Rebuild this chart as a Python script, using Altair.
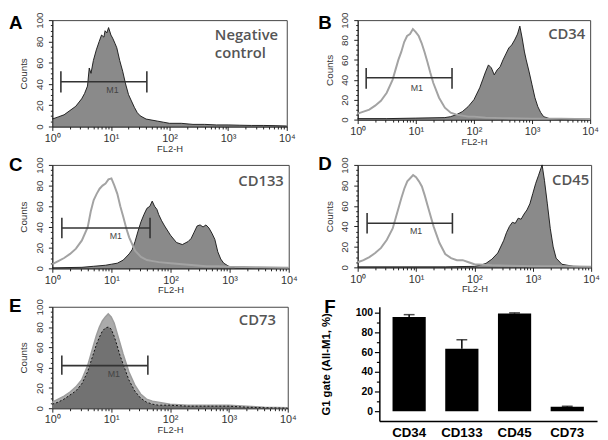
import altair as alt
import pandas as pd

FONT = "Liberation Sans"

# ---------------- histogram data (x = log10 FL2-H exponent, y = counts) ----------------
A_e = [0.0, 0.1, 0.2, 0.3, 0.4, 0.5, 0.55, 0.6, 0.63, 0.66, 0.7, 0.75, 0.8, 0.84, 0.88, 0.9, 0.93, 0.96,
       1.0, 1.03, 1.07, 1.1, 1.15, 1.2, 1.25, 1.3, 1.35, 1.4, 1.45, 1.5, 1.6, 1.7, 1.8, 1.9, 2.0, 2.2, 2.4,
       2.6, 2.8, 3.0, 3.2, 3.4, 3.6, 3.8, 4.0]
A_c = [7, 9, 11, 15, 19, 26, 31, 38, 55, 50, 62, 72, 80, 86, 84, 90, 88, 93,
       86, 83, 78, 74, 62, 52, 40, 30, 24, 18, 13, 10, 7, 6, 5, 4, 3, 3, 2,
       2, 1.5, 1.5, 1.2, 1, 1, 0.8, 0.5]

B_ctrl_e = [0.0, 0.1, 0.2, 0.3, 0.4, 0.5, 0.6, 0.65, 0.7, 0.75, 0.8, 0.85, 0.9, 0.95, 1.0, 1.05, 1.1, 1.15,
            1.2, 1.25, 1.3, 1.4, 1.5, 1.6, 1.7, 1.8, 1.9, 2.0, 2.2, 2.5, 3.0, 3.5, 4.0]
B_ctrl_c = [6, 8, 10, 14, 19, 27, 40, 50, 60, 68, 78, 84, 86, 91, 88, 84, 77, 68,
            58, 47, 37, 22, 12, 7, 5, 4, 3, 3, 2, 1.5, 1, 1, 0.5]
B_e = [0.0, 0.5, 1.0, 1.5, 1.6, 1.7, 1.8, 1.9, 2.0, 2.1, 2.15, 2.2, 2.25, 2.3, 2.35, 2.4, 2.45, 2.5,
       2.55, 2.6, 2.65, 2.7, 2.75, 2.79, 2.83, 2.87, 2.9, 2.95, 3.0, 3.05, 3.1, 3.15, 3.2, 3.3, 3.5, 4.0]
B_c = [1, 1, 1.5, 2, 3, 5, 8, 13, 20, 32, 40, 48, 55, 52, 45, 50, 53, 60,
       66, 72, 75, 80, 86, 94, 82, 68, 60, 48, 35, 22, 13, 7, 3, 1, 0.5, 0.5]

C_ctrl_e = [0.0, 0.1, 0.2, 0.3, 0.4, 0.5, 0.6, 0.65, 0.7, 0.75, 0.8, 0.85, 0.9, 0.95, 1.0, 1.05, 1.1, 1.15,
            1.2, 1.25, 1.3, 1.4, 1.5, 1.6, 1.7, 1.8, 2.0, 2.2, 2.4, 2.6, 2.8, 3.0, 3.5, 4.0]
C_ctrl_c = [4, 7, 10, 14, 19, 27, 40, 55, 66, 72, 77, 80, 82, 86, 87, 80, 72, 60,
            50, 39, 30, 17, 11, 8, 7, 6, 5, 4, 3, 2, 2, 1.5, 1, 0.5]
C_e = [0.0, 0.5, 0.7, 0.9, 1.0, 1.1, 1.2, 1.3, 1.35, 1.4, 1.45, 1.5, 1.55, 1.6, 1.65, 1.69, 1.73, 1.77,
       1.8, 1.85, 1.9, 2.0, 2.1, 2.2, 2.3, 2.35, 2.4, 2.45, 2.5, 2.55, 2.6, 2.65, 2.7, 2.75, 2.8, 2.85,
       2.9, 3.0, 3.1, 4.0]
C_c = [0.5, 1, 2, 3, 4, 5, 8, 14, 18, 26, 36, 45, 52, 58, 60, 65, 60, 57,
       52, 46, 41, 32, 25, 23, 26, 29, 35, 41, 42, 40, 42, 39, 34, 28, 16, 9,
       5, 1.5, 0.5, 0]

D_ctrl_e = [0.0, 0.1, 0.2, 0.3, 0.4, 0.5, 0.6, 0.65, 0.7, 0.75, 0.8, 0.85, 0.9, 0.95, 1.0, 1.05, 1.1, 1.15,
            1.2, 1.3, 1.4, 1.5, 1.6, 1.7, 1.8, 1.9, 2.0, 2.3, 2.6, 3.0, 3.5, 4.0]
D_ctrl_c = [5, 7, 10, 14, 19, 27, 38, 48, 58, 68, 77, 84, 87, 90, 88, 84, 79, 70,
            60, 40, 24, 13, 9, 7, 7, 5, 3, 2, 1.5, 1, 1, 0.5]
D_e = [0.0, 1.5, 2.0, 2.1, 2.2, 2.3, 2.4, 2.5, 2.55, 2.6, 2.65, 2.7, 2.75, 2.8, 2.85, 2.9, 2.95, 3.0,
       3.05, 3.1, 3.13, 3.16, 3.2, 3.25, 3.3, 3.35, 3.4, 3.5, 3.7, 4.0]
D_c = [0.5, 0.5, 1, 2, 4, 8, 14, 26, 34, 40, 44, 43, 48, 47, 52, 56, 62, 72,
       82, 90, 95, 100, 85, 62, 38, 20, 9, 3, 1, 0.5]

E_e = [0.0, 0.1, 0.2, 0.3, 0.4, 0.5, 0.6, 0.65, 0.7, 0.75, 0.8, 0.85, 0.9, 0.95, 1.0, 1.05, 1.1, 1.15,
       1.2, 1.3, 1.4, 1.5, 1.6, 1.7, 1.8, 2.0, 2.3, 2.6, 3.0, 3.3, 3.6, 4.0]
E_ctrl_c = [6, 9, 12, 16, 21, 28, 42, 52, 62, 72, 80, 86, 90, 93, 90, 84, 74, 64,
            54, 36, 23, 14, 9, 7, 6, 4, 3, 3, 3, 2, 1, 0.5]
E_c = [4, 6, 9, 13, 17, 24, 36, 45, 54, 63, 70, 76, 79, 80, 78, 71, 62, 52,
       44, 28, 17, 10, 6, 4, 3, 3, 2, 2, 2, 1, 0.5, 0]

# M1 gates: (x_lo, x_hi, y_mid, y_lo, y_hi) and M1 label position (x, y)
GATES = {
    "A": (1.4, 41, 42, 32, 52),
    "B": (1.4, 42, 42, 31, 52),
    "C": (1.45, 45, 39, 29, 49),
    "D": (1.45, 42, 43, 33, 53),
    "E": (1.45, 42, 42, 33, 52),
}
M1_POS = {"A": (10.6, 34), "B": (10.4, 32), "C": (11.9, 31), "D": (10.0, 35), "E": (11.1, 34)}

# ---------------- bar chart data ----------------
markers = ["CD34", "CD133", "CD45", "CD73"]
pct = [95.5, 63.5, 99.2, 4.5]
err = [2.5, 9.0, 0.6, 0.5]

MAJ = [1, 10, 100, 1000, 10000]
MINOR = [k * 10 ** d for d in range(4) for k in range(2, 10)]
SUP_EXPR = ("datum.value == 1 ? '10\u2070' : datum.value == 10 ? '10\u00b9' : "
            "datum.value == 100 ? '10\u00b2' : datum.value == 1000 ? '10\u00b3' : "
            "datum.value == 10000 ? '10\u2074' : ''")
IS_MAJ = ("datum.value == 1 || datum.value == 10 || datum.value == 100 || "
          "datum.value == 1000 || datum.value == 10000")


def xenc(field="fl"):
    return alt.X(
        f"{field}:Q",
        scale=alt.Scale(type="log", domain=[1, 10000], nice=False),
        axis=alt.Axis(
            values=MAJ + MINOR, labelExpr=SUP_EXPR, labelOverlap=False, labelFlush=False,
            title="FL2-H", titleFontSize=9.5, titleFontWeight="normal", titleColor="#333",
            titlePadding=0, labelFontSize=11, labelColor="#333", labelPadding=2,
            tickSize={"condition": {"test": IS_MAJ, "value": 4}, "value": 2.5},
            tickColor="#222", domainColor="#222", grid=False,
        ),
    )


def yenc():
    return alt.Y(
        "c:Q",
        scale=alt.Scale(domain=[0, 100], nice=False),
        axis=alt.Axis(
            values=list(range(0, 101, 5)),
            labelExpr="datum.value % 20 == 0 ? datum.label : ''",
            labelOverlap=False, labelAngle=270, labelAlign="center", labelBaseline="bottom",
            labelFontSize=10, labelColor="#333", labelPadding=4,
            tickSize={"condition": {"test": "datum.value % 20 == 0", "value": 4}, "value": 2},
            tickColor="#222", domainColor="#222", grid=False,
            title="Counts", titleFontSize=10, titleFontWeight="normal", titleColor="#333",
            titlePadding=6,
        ),
    )


def hist_df(e, c):
    return pd.DataFrame({"e": e, "c": c})


def letter_layer(letter, lx, ly):
    return (alt.Chart(pd.DataFrame({"k": [0]}))
            .mark_text(text=letter, align="left", baseline="alphabetic", font=FONT,
                       fontWeight="bold", fontSize=19, color="black")
            .encode(x=alt.value(lx), y=alt.value(ly)))


def hist_panel(key, sample, ctrl, label, lab_x, lab_y, lab_align, w, h, let_x, let_y, mode="std"):
    layers = []
    if mode == "e":
        layers.append(alt.Chart(hist_df(*ctrl)).transform_calculate(fl="pow(10, datum.e)")
                      .mark_area(color="#ababab", interpolate="linear").encode(x=xenc(), y=yenc()))
        layers.append(alt.Chart(hist_df(*ctrl)).transform_calculate(fl="pow(10, datum.e)")
                      .mark_line(color="#9c9c9c", strokeWidth=1.5).encode(x=xenc(), y=yenc()))
        layers.append(alt.Chart(hist_df(*sample)).transform_calculate(fl="pow(10, datum.e)")
                      .mark_area(color="#5a5a5a", line={"color": "#111", "strokeWidth": 1,
                                                        "strokeDash": [2, 2]})
                      .encode(x=xenc(), y=yenc()))
    else:
        layers.append(alt.Chart(hist_df(*sample)).transform_calculate(fl="pow(10, datum.e)")
                      .mark_area(color="#595959", line={"color": "#111", "strokeWidth": 0.9})
                      .encode(x=xenc(), y=yenc()))
        if ctrl is not None:
            layers.append(alt.Chart(hist_df(*ctrl)).transform_calculate(fl="pow(10, datum.e)")
                          .mark_line(color="#a3a3a3", strokeWidth=2).encode(x=xenc(), y=yenc()))
    lo, hi, mid, ylo, yhi = GATES[key]
    layers.append(alt.Chart(pd.DataFrame({"fl": [lo], "fl2": [hi], "c": [mid]}))
                  .mark_rule(color="#333", strokeWidth=1.6)
                  .encode(x=xenc(), x2="fl2:Q", y=yenc()))
    layers.append(alt.Chart(pd.DataFrame({"fl": [lo, hi], "c": [ylo, ylo], "c2": [yhi, yhi]}))
                  .mark_rule(color="#333", strokeWidth=1.6)
                  .encode(x=xenc(), y=yenc(), y2="c2:Q"))
    mx, my = M1_POS[key]
    layers.append(alt.Chart(pd.DataFrame({"fl": [mx], "c": [my], "t": ["M1"]}))
                  .mark_text(font=FONT, fontSize=9, color="#444")
                  .encode(x=xenc(), y=yenc(), text="t:N"))
    layers.append(alt.Chart(pd.DataFrame({"k": [0]}))
                  .mark_text(text=label, align=lab_align, baseline="alphabetic", font="Open Sans",
                             fontWeight=600, fontSize=15, color="#555", lineHeight=18)
                  .encode(x=alt.value(lab_x), y=alt.value(lab_y)))
    layers.append(letter_layer(key, let_x, let_y))
    return alt.layer(*layers).properties(width=w, height=h)


pA = hist_panel("A", (A_e, A_c), None, ["Negative", "control"], 165, 20, "left", 238, 108, -44, 9)
pB = hist_panel("B", (B_e, B_c), (B_ctrl_e, B_ctrl_c), "CD34", 231, 19, "right", 236, 101, -40, 9)
pC = hist_panel("C", (C_e, C_c), (C_ctrl_e, C_ctrl_c), "CD133", 235, 21, "right", 240, 105, -44, 6)
pD = hist_panel("D", (D_e, D_c), (D_ctrl_e, D_ctrl_c), "CD45", 235, 20, "right", 237, 104, -40, 5)
pE = hist_panel("E", (E_e, E_c), (E_e, E_ctrl_c), "CD73", 227, 19, "right", 239, 103, -44, 5, mode="e")

# ---------------- panel F: bar chart ----------------
fdf = pd.DataFrame({"marker": markers, "pct": pct, "err": err})
FY_SCALE = alt.Scale(domain=[-10, 106], nice=False, zero=False)
FY_AXIS = alt.Axis(values=list(range(0, 101, 10)),
                   labelExpr="datum.value % 20 == 0 ? datum.label : ''",
                   labelOverlap=False, labelFontSize=10.5, labelFontWeight="bold",
                   labelColor="black", labelPadding=2, offset=-22,
                   tickSize={"condition": {"test": "datum.value % 20 == 0", "value": 5}, "value": 3},
                   tickColor="black", tickWidth=1.2, domainColor="black", domainWidth=1.5,
                   grid=False, title="G1 gate (All-M1, %)", titleFontSize=11.5,
                   titleFontWeight="bold", titleColor="black", titlePadding=24)
fx = alt.X("marker:N", sort=markers,
           scale=alt.Scale(range=[22, 243], paddingInner=0.37, paddingOuter=0.25),
           axis=alt.Axis(title=None, labelAngle=0, labelFontSize=13.5, labelFontWeight="bold",
                         labelFont=FONT, labelColor="black", ticks=False, domainColor="black",
                         domainWidth=1.5, labelPadding=5))
fbase = alt.Chart(fdf).transform_calculate(hi="datum.pct + datum.err")
bars = fbase.mark_bar(color="black").encode(x=fx, y=alt.Y("pct:Q", scale=FY_SCALE, axis=FY_AXIS))
ebar = fbase.mark_rule(color="black", strokeWidth=1.5).encode(
    x=fx, y=alt.Y("pct:Q", scale=FY_SCALE, axis=FY_AXIS), y2="hi:Q")
ecap = fbase.mark_tick(color="black", thickness=1.5, size=11).encode(
    x=fx, y=alt.Y("hi:Q", scale=FY_SCALE, axis=FY_AXIS))
pF = alt.layer(bars, ebar, ecap, letter_layer("F", -34, 6)).properties(
    width=243, height=116,
    view=alt.ViewBackground(stroke="transparent"),
)

chart = alt.concat(
    pA, pB, pC, pD, pE, pF, columns=2, spacing={"row": 39, "column": 70},
    align="each", bounds="flush",
).properties(
    padding=0, background="white"
).configure_view(stroke="#444", strokeWidth=1).configure_axis(labelFont=FONT, titleFont=FONT)

chart.save("out.html", embed_options={"renderer": "svg", "actions": False})
